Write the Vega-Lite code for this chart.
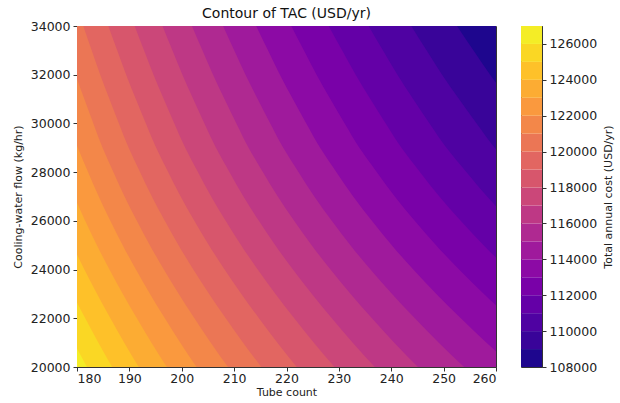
{
  "$schema": "https://vega.github.io/schema/vega-lite/v6.json",
  "background": "white",
  "padding": {"left": 11, "top": 6, "right": 5, "bottom": 1},
  "bounds": "flush",
  "spacing": 25,
  "datasets": {
    "contours": [
      {"level":108000,"flow":20000,"tubes":339.44},{"level":108000,"flow":21000,"tubes":330.84},{"level":108000,"flow":22000,"tubes":322.83},{"level":108000,"flow":23000,"tubes":315.28},{"level":108000,"flow":24000,"tubes":308.22},{"level":108000,"flow":25000,"tubes":301.71},{"level":108000,"flow":26000,"tubes":295.72},{"level":108000,"flow":27000,"tubes":290.18},{"level":108000,"flow":28000,"tubes":285.21},{"level":108000,"flow":29000,"tubes":280.41},{"level":108000,"flow":30000,"tubes":276.38},{"level":108000,"flow":31000,"tubes":272.48},{"level":108000,"flow":32000,"tubes":268.74},{"level":108000,"flow":33000,"tubes":265.29},{"level":108000,"flow":34000,"tubes":261.93},
      {"level":109000,"flow":20000,"tubes":323.85},{"level":109000,"flow":21000,"tubes":316.02},{"level":109000,"flow":22000,"tubes":308.71},{"level":109000,"flow":23000,"tubes":301.80},{"level":109000,"flow":24000,"tubes":295.32},{"level":109000,"flow":25000,"tubes":289.34},{"level":109000,"flow":26000,"tubes":283.83},{"level":109000,"flow":27000,"tubes":278.72},{"level":109000,"flow":28000,"tubes":274.13},{"level":109000,"flow":29000,"tubes":269.69},{"level":109000,"flow":30000,"tubes":265.96},{"level":109000,"flow":31000,"tubes":262.34},{"level":109000,"flow":32000,"tubes":258.88},{"level":109000,"flow":33000,"tubes":255.68},{"level":109000,"flow":34000,"tubes":252.56},
      {"level":110000,"flow":20000,"tubes":309.64},{"level":110000,"flow":21000,"tubes":302.47},{"level":110000,"flow":22000,"tubes":295.77},{"level":110000,"flow":23000,"tubes":289.42},{"level":110000,"flow":24000,"tubes":283.45},{"level":110000,"flow":25000,"tubes":277.94},{"level":110000,"flow":26000,"tubes":272.85},{"level":110000,"flow":27000,"tubes":268.13},{"level":110000,"flow":28000,"tubes":263.88},{"level":110000,"flow":29000,"tubes":259.76},{"level":110000,"flow":30000,"tubes":256.30},{"level":110000,"flow":31000,"tubes":252.94},{"level":110000,"flow":32000,"tubes":249.71},{"level":110000,"flow":33000,"tubes":246.74},{"level":110000,"flow":34000,"tubes":243.83},
      {"level":111000,"flow":20000,"tubes":296.62},{"level":111000,"flow":21000,"tubes":290.04},{"level":111000,"flow":22000,"tubes":283.87},{"level":111000,"flow":23000,"tubes":278.01},{"level":111000,"flow":24000,"tubes":272.50},{"level":111000,"flow":25000,"tubes":267.40},{"level":111000,"flow":26000,"tubes":262.69},{"level":111000,"flow":27000,"tubes":258.31},{"level":111000,"flow":28000,"tubes":254.37},{"level":111000,"flow":29000,"tubes":250.54},{"level":111000,"flow":30000,"tubes":247.31},{"level":111000,"flow":31000,"tubes":244.18},{"level":111000,"flow":32000,"tubes":241.18},{"level":111000,"flow":33000,"tubes":238.40},{"level":111000,"flow":34000,"tubes":235.68},
      {"level":112000,"flow":20000,"tubes":284.65},{"level":112000,"flow":21000,"tubes":278.58},{"level":112000,"flow":22000,"tubes":272.89},{"level":112000,"flow":23000,"tubes":267.47},{"level":112000,"flow":24000,"tubes":262.37},{"level":112000,"flow":25000,"tubes":257.64},{"level":112000,"flow":26000,"tubes":253.26},{"level":112000,"flow":27000,"tubes":249.19},{"level":112000,"flow":28000,"tubes":245.51},{"level":112000,"flow":29000,"tubes":241.95},{"level":112000,"flow":30000,"tubes":238.94},{"level":112000,"flow":31000,"tubes":236.01},{"level":112000,"flow":32000,"tubes":233.21},{"level":112000,"flow":33000,"tubes":230.61},{"level":112000,"flow":34000,"tubes":228.06},
      {"level":113000,"flow":20000,"tubes":273.61},{"level":113000,"flow":21000,"tubes":268.00},{"level":113000,"flow":22000,"tubes":262.72},{"level":113000,"flow":23000,"tubes":257.70},{"level":113000,"flow":24000,"tubes":252.96},{"level":113000,"flow":25000,"tubes":248.56},{"level":113000,"flow":26000,"tubes":244.48},{"level":113000,"flow":27000,"tubes":240.68},{"level":113000,"flow":28000,"tubes":237.26},{"level":113000,"flow":29000,"tubes":233.92},{"level":113000,"flow":30000,"tubes":231.11},{"level":113000,"flow":31000,"tubes":228.37},{"level":113000,"flow":32000,"tubes":225.74},{"level":113000,"flow":33000,"tubes":223.31},{"level":113000,"flow":34000,"tubes":220.92},
      {"level":114000,"flow":20000,"tubes":263.40},{"level":114000,"flow":21000,"tubes":258.19},{"level":114000,"flow":22000,"tubes":253.29},{"level":114000,"flow":23000,"tubes":248.62},{"level":114000,"flow":24000,"tubes":244.21},{"level":114000,"flow":25000,"tubes":240.10},{"level":114000,"flow":26000,"tubes":236.30},{"level":114000,"flow":27000,"tubes":232.74},{"level":114000,"flow":28000,"tubes":229.54},{"level":114000,"flow":29000,"tubes":226.42},{"level":114000,"flow":30000,"tubes":223.78},{"level":114000,"flow":31000,"tubes":221.21},{"level":114000,"flow":32000,"tubes":218.74},{"level":114000,"flow":33000,"tubes":216.46},{"level":114000,"flow":34000,"tubes":214.21},
      {"level":115000,"flow":20000,"tubes":253.92},{"level":115000,"flow":21000,"tubes":249.08},{"level":115000,"flow":22000,"tubes":244.51},{"level":115000,"flow":23000,"tubes":240.16},{"level":115000,"flow":24000,"tubes":236.04},{"level":115000,"flow":25000,"tubes":232.20},{"level":115000,"flow":26000,"tubes":228.64},{"level":115000,"flow":27000,"tubes":225.31},{"level":115000,"flow":28000,"tubes":222.31},{"level":115000,"flow":29000,"tubes":219.38},{"level":115000,"flow":30000,"tubes":216.90},{"level":115000,"flow":31000,"tubes":214.49},{"level":115000,"flow":32000,"tubes":212.17},{"level":115000,"flow":33000,"tubes":210.01},{"level":115000,"flow":34000,"tubes":207.90},
      {"level":116000,"flow":20000,"tubes":245.10},{"level":116000,"flow":21000,"tubes":240.58},{"level":116000,"flow":22000,"tubes":236.32},{"level":116000,"flow":23000,"tubes":232.25},{"level":116000,"flow":24000,"tubes":228.40},{"level":116000,"flow":25000,"tubes":224.80},{"level":116000,"flow":26000,"tubes":221.46},{"level":116000,"flow":27000,"tubes":218.34},{"level":116000,"flow":28000,"tubes":215.51},{"level":116000,"flow":29000,"tubes":212.76},{"level":116000,"flow":30000,"tubes":210.43},{"level":116000,"flow":31000,"tubes":208.16},{"level":116000,"flow":32000,"tubes":205.97},{"level":116000,"flow":33000,"tubes":203.94},{"level":116000,"flow":34000,"tubes":201.95},
      {"level":117000,"flow":20000,"tubes":236.87},{"level":117000,"flow":21000,"tubes":232.65},{"level":117000,"flow":22000,"tubes":228.66},{"level":117000,"flow":23000,"tubes":224.85},{"level":117000,"flow":24000,"tubes":221.23},{"level":117000,"flow":25000,"tubes":217.86},{"level":117000,"flow":26000,"tubes":214.72},{"level":117000,"flow":27000,"tubes":211.78},{"level":117000,"flow":28000,"tubes":209.13},{"level":117000,"flow":29000,"tubes":206.53},{"level":117000,"flow":30000,"tubes":204.33},{"level":117000,"flow":31000,"tubes":202.19},{"level":117000,"flow":32000,"tubes":200.13},{"level":117000,"flow":33000,"tubes":198.21},{"level":117000,"flow":34000,"tubes":196.33},
      {"level":118000,"flow":20000,"tubes":229.17},{"level":118000,"flow":21000,"tubes":225.22},{"level":118000,"flow":22000,"tubes":221.48},{"level":118000,"flow":23000,"tubes":217.90},{"level":118000,"flow":24000,"tubes":214.51},{"level":118000,"flow":25000,"tubes":211.33},{"level":118000,"flow":26000,"tubes":208.38},{"level":118000,"flow":27000,"tubes":205.61},{"level":118000,"flow":28000,"tubes":203.11},{"level":118000,"flow":29000,"tubes":200.66},{"level":118000,"flow":30000,"tubes":198.58},{"level":118000,"flow":31000,"tubes":196.56},{"level":118000,"flow":32000,"tubes":194.61},{"level":118000,"flow":33000,"tubes":192.79},{"level":118000,"flow":34000,"tubes":191.01},
      {"level":119000,"flow":20000,"tubes":221.96},{"level":119000,"flow":21000,"tubes":218.26},{"level":119000,"flow":22000,"tubes":214.74},{"level":119000,"flow":23000,"tubes":211.38},{"level":119000,"flow":24000,"tubes":208.18},{"level":119000,"flow":25000,"tubes":205.19},{"level":119000,"flow":26000,"tubes":202.40},{"level":119000,"flow":27000,"tubes":199.79},{"level":119000,"flow":28000,"tubes":197.42},{"level":119000,"flow":29000,"tubes":195.11},{"level":119000,"flow":30000,"tubes":193.15},{"level":119000,"flow":31000,"tubes":191.23},{"level":119000,"flow":32000,"tubes":189.38},{"level":119000,"flow":33000,"tubes":187.67},{"level":119000,"flow":34000,"tubes":185.98},
      {"level":120000,"flow":20000,"tubes":215.19},{"level":120000,"flow":21000,"tubes":211.71},{"level":120000,"flow":22000,"tubes":208.40},{"level":120000,"flow":23000,"tubes":205.23},{"level":120000,"flow":24000,"tubes":202.21},{"level":120000,"flow":25000,"tubes":199.39},{"level":120000,"flow":26000,"tubes":196.76},{"level":120000,"flow":27000,"tubes":194.29},{"level":120000,"flow":28000,"tubes":192.05},{"level":120000,"flow":29000,"tubes":189.86},{"level":120000,"flow":30000,"tubes":188.00},{"level":120000,"flow":31000,"tubes":186.19},{"level":120000,"flow":32000,"tubes":184.43},{"level":120000,"flow":33000,"tubes":182.80},{"level":120000,"flow":34000,"tubes":181.20},
      {"level":121000,"flow":20000,"tubes":208.82},{"level":121000,"flow":21000,"tubes":205.54},{"level":121000,"flow":22000,"tubes":202.42},{"level":121000,"flow":23000,"tubes":199.43},{"level":121000,"flow":24000,"tubes":196.58},{"level":121000,"flow":25000,"tubes":193.91},{"level":121000,"flow":26000,"tubes":191.42},{"level":121000,"flow":27000,"tubes":189.08},{"level":121000,"flow":28000,"tubes":186.96},{"level":121000,"flow":29000,"tubes":184.88},{"level":121000,"flow":30000,"tubes":183.12},{"level":121000,"flow":31000,"tubes":181.40},{"level":121000,"flow":32000,"tubes":179.74},{"level":121000,"flow":33000,"tubes":178.19},
      {"level":122000,"flow":20000,"tubes":202.82},{"level":122000,"flow":21000,"tubes":199.72},{"level":122000,"flow":22000,"tubes":196.77},{"level":122000,"flow":23000,"tubes":193.94},{"level":122000,"flow":24000,"tubes":191.25},{"level":122000,"flow":25000,"tubes":188.72},{"level":122000,"flow":26000,"tubes":186.36},{"level":122000,"flow":27000,"tubes":184.15},{"level":122000,"flow":28000,"tubes":182.13},{"level":122000,"flow":29000,"tubes":180.16},{"level":122000,"flow":30000,"tubes":178.49},
      {"level":123000,"flow":20000,"tubes":197.15},{"level":123000,"flow":21000,"tubes":194.22},{"level":123000,"flow":22000,"tubes":191.43},{"level":123000,"flow":23000,"tubes":188.75},{"level":123000,"flow":24000,"tubes":186.20},{"level":123000,"flow":25000,"tubes":183.80},{"level":123000,"flow":26000,"tubes":181.56},{"level":123000,"flow":27000,"tubes":179.46},
      {"level":124000,"flow":20000,"tubes":191.79},{"level":124000,"flow":21000,"tubes":189.02},{"level":124000,"flow":22000,"tubes":186.38},{"level":124000,"flow":23000,"tubes":183.84},{"level":124000,"flow":24000,"tubes":181.41},{"level":124000,"flow":25000,"tubes":179.14},
      {"level":125000,"flow":20000,"tubes":186.72},{"level":125000,"flow":21000,"tubes":184.09},{"level":125000,"flow":22000,"tubes":181.58},{"level":125000,"flow":23000,"tubes":179.17},
      {"level":126000,"flow":20000,"tubes":181.90},{"level":126000,"flow":21000,"tubes":179.40}
    ],
    "bands": [
      {"level":108000,"top":109000},{"level":109000,"top":110000},{"level":110000,"top":111000},{"level":111000,"top":112000},{"level":112000,"top":113000},{"level":113000,"top":114000},{"level":114000,"top":115000},{"level":115000,"top":116000},{"level":116000,"top":117000},{"level":117000,"top":118000},{"level":118000,"top":119000},{"level":119000,"top":120000},{"level":120000,"top":121000},{"level":121000,"top":122000},{"level":122000,"top":123000},{"level":123000,"top":124000},{"level":124000,"top":125000},{"level":125000,"top":126000},{"level":126000,"top":127000}
    ]
  },
  "hconcat": [
    {
      "width": 419,
      "height": 341,
      "title": {"text": "Contour of TAC (USD/yr)", "fontSize": 14, "fontWeight": "normal", "color": "#111", "offset": -1, "frame": "group"},
      "data": {"name": "contours"},
      "mark": {"type": "area", "orient": "horizontal", "interpolate": "monotone", "clip": true},
      "encoding": {
        "y": {"field": "flow", "type": "quantitative", "scale": {"domain": [20000, 34000], "nice": false, "zero": false},
              "axis": {"values": [20000,22000,24000,26000,28000,30000,32000,34000], "format": "d", "title": "Cooling-water flow (kg/hr)", "titlePadding": 7}},
        "x": {"field": "tubes", "type": "quantitative", "stack": null, "scale": {"domain": [180, 260], "nice": false, "zero": false},
              "axis": {"values": [180,190,200,210,220,230,240,250,260], "format": "d", "title": "Tube count", "labelPadding": 1, "titlePadding": 2}},
        "x2": {"datum": 180},
        "color": {"field": "level", "type": "quantitative", "scale": {"scheme": "plasma", "domain": [107500, 126500]}, "legend": null}
      }
    },
    {
      "width": 21,
      "height": 341,
      "data": {"name": "bands"},
      "mark": {"type": "rect"},
      "encoding": {
        "y": {"field": "level", "type": "quantitative", "scale": {"domain": [108000, 127000], "nice": false, "zero": false},
              "axis": {"orient": "right", "values": [108000,110000,112000,114000,116000,118000,120000,122000,124000,126000], "format": "d", "title": "Total annual cost (USD/yr)", "titleAngle": 270, "titleBaseline": "top"}},
        "y2": {"field": "top"},
        "x": {"value": 0},
        "x2": {"value": "width"},
        "color": {"field": "level", "type": "quantitative", "scale": {"scheme": "plasma", "domain": [107500, 126500]}, "legend": null}
      }
    }
  ],
  "resolve": {"scale": {"x": "independent", "y": "independent"}},
  "config": {
    "font": "DejaVu Sans",
    "view": {"stroke": "#333", "strokeWidth": 1},
    "axis": {"labelFontSize": 12.5, "titleFontSize": 11, "titleFontWeight": "normal", "labelColor": "#222", "titleColor": "#222", "tickColor": "#333", "domainColor": "#333", "tickSize": 4, "grid": false, "labelPadding": 3, "titlePadding": 6, "zindex": 1}
  }
}
